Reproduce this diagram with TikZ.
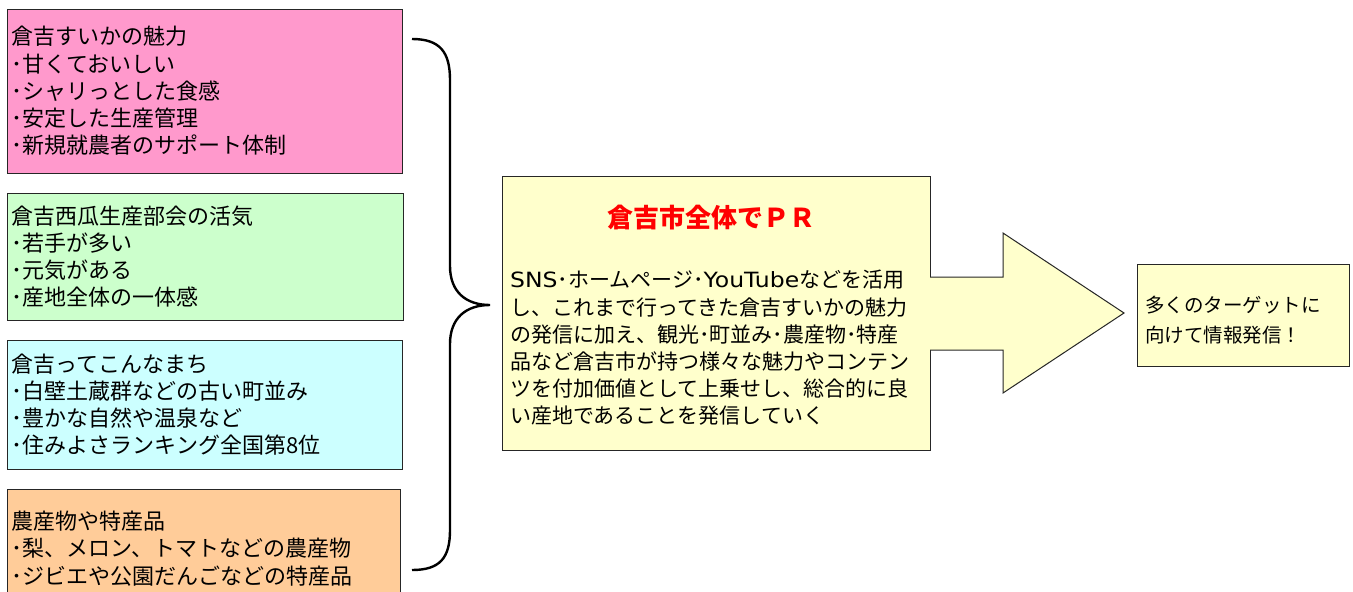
\documentclass[tikz,border=0pt]{standalone}
\usepackage{fontspec}
\setmainfont{Noto Sans CJK JP}
\newfontfamily\latinw{DejaVu Sans}[FakeStretch=1.12]
\definecolor{pinkf}{HTML}{FF99CC}
\definecolor{greenf}{HTML}{CCFFCC}
\definecolor{cyanf}{HTML}{CCFFFF}
\definecolor{orangef}{HTML}{FFCC99}
\definecolor{yellowf}{HTML}{FFFFCC}
\definecolor{edge}{HTML}{262626}
\tikzset{
  box/.style={draw=edge, line width=1pt, inner xsep=5pt, inner ysep=0pt, align=left, anchor=center,
    font=\fontsize{22}{27.2}\selectfont},
  plain/.style={draw=edge, line width=1pt},
  brace/.style={draw=black, line width=2.4pt},
}
\begin{document}
\begin{tikzpicture}[x=1pt,y=-1pt]
\clip (0,0) rectangle (1353,592);
\fill[white] (0,0) rectangle (1353,592);

% left boxes
\node[box, fill=pinkf, minimum width=395pt, minimum height=164pt, text width=385pt] (charm) at (204.5,91)
  {倉吉すいかの魅力\\･甘くておいしい\\･シャリっとした食感\\･安定した生産管理\\･新規就農者のサポート体制};
\node[box, fill=greenf, minimum width=396pt, minimum height=127pt, text width=386pt] (bukai) at (205,256.5)
  {倉吉西瓜生産部会の活気\\･若手が多い\\･元気がある\\･産地全体の一体感};
\node[box, fill=cyanf, minimum width=395pt, minimum height=129pt, text width=385pt] (town) at (204.5,404.5)
  {倉吉ってこんなまち\\･白壁土蔵群などの古い町並み\\･豊かな自然や温泉など\\･住みよさランキング全国第8位};
\node[box, fill=orangef, minimum width=393pt, minimum height=118pt, text width=383pt] (prod) at (203.5,548.5)
  {農産物や特産品\\･梨、メロン、トマトなどの農産物\\･ジビエや公園だんごなどの特産品};

% brace
\coordinate (btop) at (412,39);
\coordinate (btip) at (490,305);
\coordinate (bbot) at (412,570);
\draw[brace] (btop) .. controls (440,39) and (450,52) .. (450,80) -- (450,266)
  .. controls (450,292) and (466,305) .. (btip)
  .. controls (466,305) and (450,318) .. (450,344) -- (450,530)
  .. controls (450,558) and (440,570) .. (bbot);

% central box
\node[plain, fill=yellowf, minimum width=428pt, minimum height=274pt, inner sep=0pt] (pr) at (716,313) {};
\node[text=red, font=\fontsize{26}{30}\selectfont\bfseries, inner sep=0pt] (prtitle) at (711,218) {倉吉市全体でＰＲ};
\node[align=left, anchor=west, inner sep=0pt, font=\fontsize{21}{27.2}\selectfont] (prbody) at (510,348)
  {{\latinw SNS}･ホームページ･{\latinw YouTube}などを活用\\し、これまで行ってきた倉吉すいかの魅力\\の発信に加え、観光･町並み･農産物･特産\\品など倉吉市が持つ様々な魅力やコンテン\\ツを付加価値として上乗せし、総合的に良\\い産地であることを発信していく};

% block arrow
\fill[yellowf] (929,277) -- (1003,277) -- (1003,233) -- (1124,313) -- (1003,393) -- (1003,350) -- (929,350) -- cycle;
\draw[plain, line join=miter] (930,277) -- (1003,277) -- (1003,233) -- (1124,313) -- (1003,393) -- (1003,350) -- (930,350);

% target box
\node[plain, fill=yellowf, minimum width=212pt, minimum height=102pt, inner sep=0pt] (target) at (1243,315.5) {};
\node[align=left, anchor=west, inner sep=0pt, font=\fontsize{19.5}{30}\selectfont] (targettext) at (1145,320.5)
  {多くのターゲットに\\向けて情報発信！};
\end{tikzpicture}
\end{document}
